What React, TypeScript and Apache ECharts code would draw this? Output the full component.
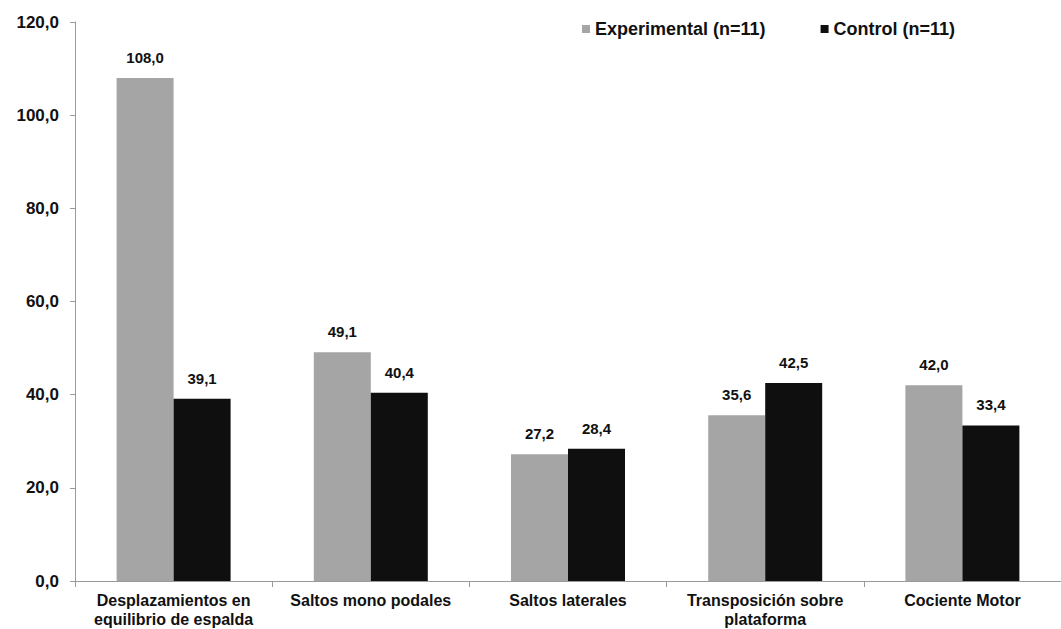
import React, { useEffect, useRef } from "react";
import * as echarts from "echarts";

const categories = [
  "Desplazamientos en\nequilibrio de espalda",
  "Saltos mono podales",
  "Saltos laterales",
  "Transposición sobre\nplataforma",
  "Cociente Motor",
];
const experimental = [108.0, 49.1, 27.2, 35.6, 42.0];
const control = [39.1, 40.4, 28.4, 42.5, 33.4];
const seriesNames = ["Experimental (n=11)", "Control (n=11)"];

const fmt = (v: number) => v.toFixed(1).replace(".", ",");
const FONT = "'Liberation Sans', Arial, sans-serif";

export default function App() {
  const ref = useRef<HTMLDivElement>(null);
  useEffect(() => {
    if (!ref.current) return;
    const chart = echarts.init(ref.current, null, { renderer: "svg" });
    const valueLabel = {
      show: true,
      position: "top" as const,
      distance: 13,
      formatter: (p: any) => fmt(p.value),
      color: "#111",
      fontFamily: FONT,
      fontWeight: "bold" as const,
      fontSize: 15,
    };
    chart.setOption({
      animation: false,
      backgroundColor: "#fff",
      grid: { left: 75, top: 22, width: 997, height: 563, containLabel: false },
      legend: {
        left: 582,
        top: 20,
        padding: 0,
        icon: "rect",
        itemWidth: 8,
        itemHeight: 8,
        itemGap: 55,
        textStyle: { fontFamily: FONT, fontWeight: "bold", fontSize: 18, color: "#111" },
        data: seriesNames,
      },
      xAxis: {
        type: "category",
        data: categories,
        axisLine: { lineStyle: { color: "#9a9a9a", width: 1 } },
        axisTick: { show: true, length: 6, lineStyle: { color: "#9a9a9a" } },
        axisLabel: {
          margin: 10,
          fontFamily: FONT,
          fontWeight: "bold",
          fontSize: 16,
          lineHeight: 19,
          color: "#111",
          interval: 0,
        },
      },
      yAxis: {
        type: "value",
        min: 0,
        max: 120,
        interval: 20,
        axisLine: { show: true, lineStyle: { color: "#9a9a9a", width: 1 } },
        axisTick: { show: true, length: 5, lineStyle: { color: "#9a9a9a" } },
        splitLine: { show: false },
        axisLabel: {
          margin: 16,
          formatter: (v: number) => fmt(v),
          fontFamily: FONT,
          fontWeight: "bold",
          fontSize: 17,
          color: "#111",
        },
      },
      series: [
        {
          name: seriesNames[0],
          type: "bar",
          data: experimental,
          barWidth: 57,
          barGap: "0%",
          itemStyle: { color: "#a5a5a5" },
          label: valueLabel,
        },
        {
          name: seriesNames[1],
          type: "bar",
          data: control,
          barWidth: 57,
          barGap: "0%",
          itemStyle: { color: "#0f0f0f" },
          label: valueLabel,
        },
      ],
    });
    return () => chart.dispose();
  }, []);
  return (
    <div
      ref={ref}
      style={{ position: "absolute", left: 0, top: 0, width: 1061, height: 629, overflow: "hidden" }}
    />
  );
}
